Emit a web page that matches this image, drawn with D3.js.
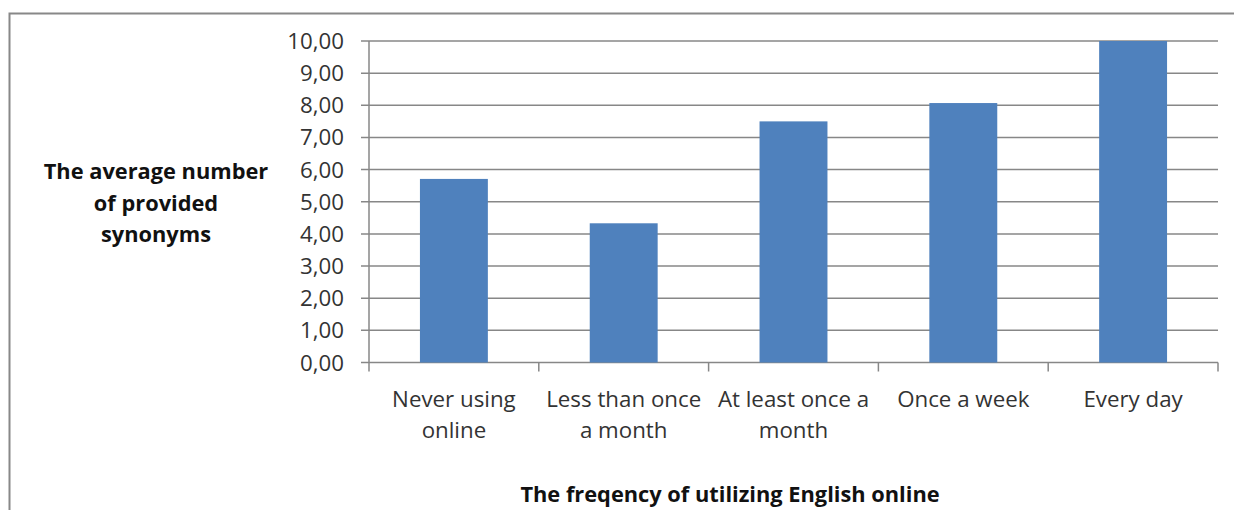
<!DOCTYPE html>
<html><head><meta charset="utf-8">
<script src="https://cdn.jsdelivr.net/npm/d3@7"></script>
<style>body{margin:0;background:#fff}svg{display:block}</style>
</head><body>
<script>
const categories = [["Never using","online"],["Less than once","a month"],["At least once a","month"],["Once a week"],["Every day"]];
const values = [5.71, 4.33, 7.50, 8.07, 10.00];
const yTicks = [0,1,2,3,4,5,6,7,8,9,10];
const yTitle = ["The average number","of provided","synonyms"];
const xTitle = "The freqency of utilizing English online";

const W=1234,H=510;
const svg=d3.select("body").append("svg").attr("width",W).attr("height",H);
const font="'Open Sans', sans-serif";
svg.append("rect").attr("x",9.5).attr("y",13.5).attr("width",1240).attr("height",520)
  .attr("fill","#fff").attr("stroke","#888").attr("stroke-width",2);

const x0=369,x1=1218,yTop=41,yBot=362.5;
const idx=categories.map((d,i)=>i);
const x=d3.scaleBand().domain(idx).range([x0,x1]).paddingInner(0.6).paddingOuter(0.3);
const xb=d3.scaleBand().domain(idx).range([x0,x1]);
const y=d3.scaleLinear().domain([0,10]).range([yBot,yTop]);

const grid="#878787";
svg.append("g").selectAll("line").data(yTicks).join("line")
  .attr("x1",x0-8).attr("x2",x1).attr("y1",d=>y(d)).attr("y2",d=>y(d))
  .attr("stroke",grid).attr("stroke-width",1.5);
svg.append("line").attr("x1",x0).attr("x2",x0).attr("y1",yTop).attr("y2",yBot).attr("stroke",grid).attr("stroke-width",1.5);
const xt=idx.map(i=>xb(i)).concat([x1]);
svg.append("g").selectAll("line").data(xt).join("line")
  .attr("x1",d=>d).attr("x2",d=>d).attr("y1",yBot).attr("y2",yBot+9).attr("stroke",grid).attr("stroke-width",1.5);

svg.append("g").selectAll("rect").data(values).join("rect")
  .attr("x",(d,i)=>x(i)).attr("width",x.bandwidth())
  .attr("y",d=>y(d)).attr("height",d=>yBot-y(d))
  .attr("fill","#4F81BD");

svg.append("g").selectAll("text").data(yTicks).join("text")
  .attr("x",344).attr("y",d=>y(d)).attr("dy","0.36em").attr("text-anchor","end")
  .attr("font-family",font).attr("font-size",22.3).attr("fill","#333").text(d=>d.toFixed(2).replace(".",","));

categories.forEach((lines,i)=>{
  const cx=xb(i)+xb.bandwidth()/2;
  lines.forEach((t,j)=>{
    svg.append("text").attr("x",cx).attr("y",407+j*30.5).attr("text-anchor","middle")
      .attr("font-family",font).attr("font-size",22.3).attr("fill","#333").text(t);
  });
});

yTitle.forEach((t,j)=>{
  svg.append("text").attr("x",156).attr("y",179+j*31.5).attr("text-anchor","middle")
    .attr("font-family",font).attr("font-weight","bold").attr("font-size",21.8).attr("fill","#111").text(t);
});
svg.append("text").attr("x",730).attr("y",502).attr("text-anchor","middle")
  .attr("font-family",font).attr("font-weight","bold").attr("font-size",21.8).attr("fill","#111").text(xTitle);
</script>
</body></html>
